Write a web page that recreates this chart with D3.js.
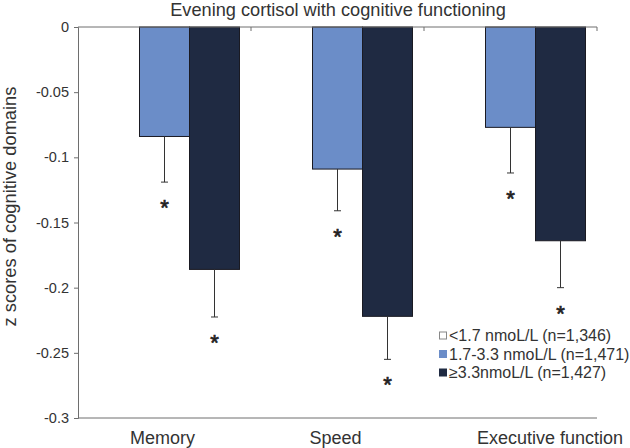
<!DOCTYPE html>
<html><head><meta charset="utf-8">
<script src="https://cdn.jsdelivr.net/npm/d3@7"></script>
<style>body{margin:0;background:#fff}svg{display:block}text{font-family:"Liberation Sans",Arial,sans-serif;fill:#333}</style>
</head><body>
<svg id="c" width="630" height="448"></svg>
<script>
const title = "Evening cortisol with cognitive functioning";
const yTitle = "z scores of cognitive domains";
const categories = ["Memory", "Speed", "Executive function"];
const seriesNames = ["<1.7 nmoL/L (n=1,346)", "1.7-3.3 nmoL/L (n=1,471)", "\u22653.3nmoL/L (n=1,427)"];
const seriesColors = ["#ffffff", "#6b8dc8", "#1f2a42"];
const lowValues = [0, 0, 0];
const midValues = [-0.084, -0.109, -0.077];
const highValues = [-0.186, -0.222, -0.164];
const midErrors = [0.035, 0.032, 0.035];
const highErrors = [0.0365, 0.033, 0.036];
const yTicks = [0, -0.05, -0.1, -0.15, -0.2, -0.25, -0.3];
const yTickLabels = ["0", "-0.05", "-0.1", "-0.15", "-0.2", "-0.25", "-0.3"];

const series = [
  {name: seriesNames[0], color: seriesColors[0], values: lowValues, errors: null},
  {name: seriesNames[1], color: seriesColors[1], values: midValues, errors: midErrors},
  {name: seriesNames[2], color: seriesColors[2], values: highValues, errors: highErrors}
];

const svg = d3.select("#c");
const mLeft = 78, mRight = 597, mTop = 27, mBottom = 418;
const x = d3.scaleBand().domain(categories).range([mLeft, mRight]).padding(0);
const xs = d3.scaleBand().domain(d3.range(series.length)).range([0, x.bandwidth()]).paddingInner(0).paddingOuter(0.23);
const y = d3.scaleLinear().domain([0, -0.3]).range([mTop, mBottom]);
const axisColor = "#6e6e6e";

// title
svg.append("text").attr("x", 338).attr("y", 16).attr("text-anchor", "middle")
  .style("font-size", "18.2px").text(title);

// y axis
const ya = svg.append("g").attr("transform", `translate(${mLeft},0)`)
  .call(d3.axisLeft(y).tickValues(yTicks).tickFormat((d, i) => yTickLabels[i]).tickSize(4).tickPadding(5));
ya.select(".domain").attr("stroke", axisColor);
ya.selectAll(".tick line").attr("stroke", axisColor);
ya.selectAll(".tick text").style("font-size", "14.5px").attr("fill", "#333").style("font-family", '"Liberation Sans",Arial,sans-serif');

// y title
svg.append("text").attr("transform", `translate(15.5,206.5) rotate(-90)`)
  .attr("text-anchor", "middle").style("font-size", "18.3px").text(yTitle);

// bottom line
svg.append("line").attr("x1", mLeft).attr("x2", mRight).attr("y1", mBottom).attr("y2", mBottom)
  .attr("stroke", axisColor);

// category labels
svg.selectAll(".cat").data(categories).join("text").attr("class", "cat")
  .attr("x", (d, i) => i === categories.length - 1 ? mRight + 26 : x(d) + x.bandwidth() / 2 - 2)
  .attr("y", 443.5)
  .attr("text-anchor", (d, i) => i === categories.length - 1 ? "end" : "middle")
  .style("font-size", "18px").text(d => d);

// bars
series.forEach((s, si) => {
  svg.selectAll(".bar" + si).data(categories).join("rect").attr("class", "bar" + si)
    .attr("x", d => x(d) + xs(si)).attr("width", xs.bandwidth())
    .attr("y", (d, i) => y(Math.max(0, s.values[i])))
    .attr("height", (d, i) => Math.abs(y(s.values[i]) - y(0)))
    .attr("fill", s.color).attr("stroke", "#1a1a22").attr("stroke-width", 1);
  if (s.errors) {
    const g = svg.append("g");
    categories.forEach((c, i) => {
      const cx = x(c) + xs(si) + xs.bandwidth() / 2;
      const y0 = y(s.values[i]), y1 = y(s.values[i] - s.errors[i]);
      g.append("line").attr("x1", cx).attr("x2", cx).attr("y1", y0).attr("y2", y1).attr("stroke", "#333");
      g.append("line").attr("x1", cx - 3.5).attr("x2", cx + 3.5).attr("y1", y1).attr("y2", y1).attr("stroke", "#333");
      g.append("text").attr("x", cx).attr("y", y1 + 33).attr("text-anchor", "middle")
        .style("font-size", "22px").style("fill", "#222").attr("stroke", "#222").attr("stroke-width", 0.7).text("*");
    });
  }
});

// top category axis (at 0)
const xa = svg.append("g").attr("transform", `translate(0,${mTop})`);
xa.append("line").attr("x1", mLeft).attr("x2", mRight).attr("y1", 0).attr("y2", 0).attr("stroke", axisColor);
categories.forEach(c => {
  const xx = x(c) + x.bandwidth();
  xa.append("line").attr("x1", xx).attr("x2", xx).attr("y1", 0).attr("y2", 4).attr("stroke", axisColor);
});

// legend
const lg = svg.append("g").attr("transform", "translate(439,335.5)");
series.forEach((s, i) => {
  const row = lg.append("g").attr("transform", `translate(0,${i * 18.5})`);
  row.append("rect").attr("x", 0.5).attr("y", -3.5).attr("width", 7).attr("height", 7)
    .attr("fill", s.color).attr("stroke", i === 0 ? "#888" : s.color);
  row.append("text").attr("x", 10).attr("y", 5.6).style("font-size", "16px").text(s.name);
});
</script>
</body></html>
